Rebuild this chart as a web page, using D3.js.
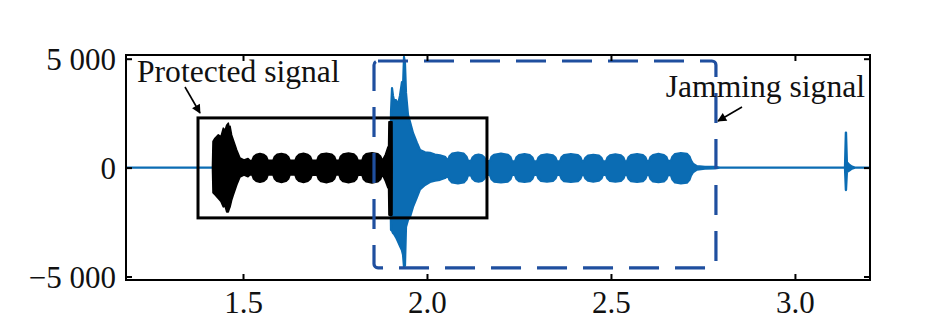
<!DOCTYPE html>
<html><head><meta charset="utf-8">
<script src="https://cdn.jsdelivr.net/npm/d3@7"></script>
<style>html,body{margin:0;padding:0;background:#fff;}svg{display:block;}</style>
</head><body>
<script>
// ---- data ----
const xTicks = [1.5, 2.0, 2.5, 3.0];
const xTickLabels = ["1.5", "2.0", "2.5", "3.0"];
const yTicks = [5000, 0, -5000];
const yTickLabels = ["5 000", "0", "\u22125 000"];

// protected signal envelope (black)
const protectedTime = [1.417, 1.4185, 1.4239, 1.4329, 1.4400, 1.4465, 1.4510, 1.4557, 1.460, 1.4625, 1.4647, 1.4690, 1.4736, 1.4829, 1.4918, 1.5027, 1.5136, 1.519,
  1.5245, 1.5285, 1.5355, 1.546, 1.557, 1.564, 1.568,
  1.5815, 1.5855, 1.5925, 1.6046, 1.6167, 1.6237, 1.6277,
  1.6413, 1.6453, 1.6523, 1.6644, 1.6765, 1.6835, 1.6875,
  1.701, 1.705, 1.712, 1.7268, 1.7417, 1.7487, 1.7527,
  1.7609, 1.7649, 1.7719, 1.7867, 1.8015, 1.8085, 1.8125,
  1.8234, 1.8274, 1.8344, 1.8505, 1.8667, 1.8737, 1.8777,
  1.8804, 1.8872, 1.894, 1.8955,
  1.8967, 1.9049, 1.9052];
const protectedUpper = [0, 1200, 1350, 1500, 1420, 1810, 1700, 1950, 2040, 1800, 1900, 1500, 1270, 810, 440, 350, 420, 320,
  340, 500, 600, 650, 600, 500, 340,
  340, 510, 610, 650, 600, 490, 330,
  330, 500, 610, 660, 600, 500, 340,
  340, 520, 620, 660, 610, 510, 340,
  330, 520, 620, 670, 620, 510, 350,
  340, 530, 630, 680, 630, 530, 380,
  380, 600, 950, 700,
  2100, 2100, 0];
const protectedLower = [0, -1150, -1250, -1420, -1550, -1800, -1750, -2030, -2030, -1900, -1810, -1500, -1260, -800, -430, -340, -420, -340,
  -340, -520, -620, -670, -620, -520, -340,
  -340, -520, -630, -680, -630, -520, -340,
  -340, -520, -630, -680, -620, -520, -350,
  -350, -530, -640, -690, -630, -520, -340,
  -340, -530, -640, -690, -640, -530, -350,
  -350, -540, -650, -700, -650, -540, -380,
  -380, -620, -930, -700,
  -2180, -2180, 0];

// jamming signal envelope (blue)
const jammingTime = [1.182, 1.900, 1.9022, 1.905, 1.9076, 1.9103, 1.9158, 1.9212, 1.9266, 1.932, 1.9348, 1.9375, 1.9402, 1.943, 1.9484, 1.9538, 1.962, 1.9728, 1.981, 1.9946, 2.0082, 2.0217, 2.0353, 2.0489, 2.0543,
  2.057, 2.061, 2.068, 2.084, 2.100, 2.1074, 2.1114,
  2.1196, 2.1236, 2.1306, 2.14, 2.1493, 2.1563, 2.1603,
  2.1712, 2.1752, 2.1822, 2.201, 2.220, 2.227, 2.231,
  2.2391, 2.2431, 2.2501, 2.265, 2.2798, 2.2868, 2.2908,
  2.2989, 2.3029, 2.3099, 2.326, 2.3423, 2.3493, 2.3533,
  2.3614, 2.3654, 2.3724, 2.391, 2.4102, 2.4172, 2.4212,
  2.4266, 2.4306, 2.4376, 2.452, 2.4673, 2.4743, 2.4783,
  2.4864, 2.4904, 2.4974, 2.512, 2.527, 2.534, 2.538,
  2.5435, 2.5475, 2.5545, 2.571, 2.5868, 2.5938, 2.5978,
  2.6033, 2.6073, 2.6143, 2.629, 2.6439, 2.6509, 2.6549,
  2.663, 2.667, 2.674, 2.690, 2.7064, 2.7134, 2.7174,
  2.7228, 2.7337, 2.7554, 2.7826, 2.796,
  3.1359, 3.1383, 3.1389, 3.1413, 3.1467, 3.1549, 3.163, 3.204];
const jammingUpper = [0, 0, 2560, 3650, 3300, 3100, 3100, 2900, 3300, 3930, 3700, 5080, 4800, 3430, 2420, 2100, 1590, 1130, 810, 700, 680, 600, 560, 500, 380,
  330, 520, 640, 690, 640, 500, 320,
  300, 460, 560, 600, 560, 460, 300,
  300, 490, 590, 640, 590, 480, 300,
  290, 470, 570, 620, 570, 460, 290,
  290, 460, 560, 610, 560, 460, 290,
  290, 470, 580, 620, 580, 470, 300,
  300, 450, 550, 590, 550, 450, 290,
  290, 460, 560, 610, 560, 460, 290,
  290, 470, 570, 620, 570, 470, 300,
  300, 480, 580, 630, 580, 480, 300,
  320, 500, 620, 670, 630, 510, 330,
  180, 70, 40, 30, 0,
  0, 1610, 1610, 250, 150, 50, 0, 0];
const jammingLower = [0, 0, -2860, -2900, -3000, -3050, -3200, -3400, -3600, -3800, -4000, -4560, -4500, -2720, -2400, -2260, -1800, -1350, -1000, -800, -660, -600, -560, -480, -400,
  -380, -560, -680, -720, -680, -550, -360,
  -350, -510, -610, -650, -610, -510, -340,
  -340, -530, -640, -680, -640, -530, -340,
  -340, -520, -620, -660, -620, -510, -330,
  -330, -500, -610, -650, -610, -500, -330,
  -330, -510, -620, -660, -620, -510, -340,
  -340, -500, -600, -640, -600, -500, -330,
  -330, -500, -610, -650, -610, -500, -330,
  -330, -510, -620, -660, -620, -510, -330,
  -330, -520, -630, -670, -630, -520, -340,
  -360, -550, -680, -720, -690, -560, -370,
  -220, -90, -50, -40, 0,
  0, -1030, -1030, -200, -150, -50, 0, 0];

// annotation boxes (data coordinates)
const protectedBox = {x0: 1.3777, x1: 2.163, y0: -2309, y1: 2281};
const jammingBox = {x0: 1.856, x1: 2.7853, y0: -4604, y1: 4895};

// ---- chart ----
const W = 933, H = 332;
const mLeft = 126, mRight = 870, mTop = 55, mBottom = 280;
const font = "'Liberation Serif','Times New Roman',serif";

const svg = d3.select("body").append("svg").attr("width", W).attr("height", H);
svg.append("rect").attr("width", W).attr("height", H).attr("fill", "#fff");

const x = d3.scaleLinear().domain([1.182, 3.204]).range([mLeft, mRight]);
const y = d3.scaleLinear().domain([-5160, 5170]).range([mBottom, mTop]);

const toRows = (t, hi, lo) => t.map((v, i) => ({t: v, hi: hi[i], lo: lo[i]}));
const area = d3.area().x(d => x(d.t)).y0(d => y(d.lo)).y1(d => y(d.hi));

const blue = "#0b6cb3";
svg.append("path").datum(toRows(jammingTime, jammingUpper, jammingLower))
  .attr("d", area).attr("fill", blue).attr("stroke", blue)
  .attr("stroke-width", 2.2).attr("stroke-linejoin", "round");

svg.append("path").datum(toRows(protectedTime, protectedUpper, protectedLower))
  .attr("d", area).attr("fill", "#000").attr("stroke", "#000")
  .attr("stroke-width", 1.6).attr("stroke-linejoin", "round");

// protected box
svg.append("rect")
  .attr("x", x(protectedBox.x0)).attr("y", y(protectedBox.y1))
  .attr("width", x(protectedBox.x1) - x(protectedBox.x0))
  .attr("height", y(protectedBox.y0) - y(protectedBox.y1))
  .attr("fill", "none").attr("stroke", "#000").attr("stroke-width", 3);

// jamming dashed box
svg.append("rect")
  .attr("x", x(jammingBox.x0)).attr("y", y(jammingBox.y1))
  .attr("width", x(jammingBox.x1) - x(jammingBox.x0))
  .attr("height", y(jammingBox.y0) - y(jammingBox.y1))
  .attr("rx", 4).attr("ry", 4)
  .attr("fill", "none").attr("stroke", "#1f4f9f").attr("stroke-width", 3.2)
  .attr("stroke-dasharray", "30,16");

// frame
svg.append("rect").attr("x", mLeft).attr("y", mTop)
  .attr("width", mRight - mLeft).attr("height", mBottom - mTop)
  .attr("fill", "none").attr("stroke", "#000").attr("stroke-width", 2);

// axes with inward ticks on all sides
const axB = d3.axisBottom(x).tickValues(xTicks).tickSizeInner(-6).tickSizeOuter(0).tickFormat((d, i) => xTickLabels[i]);
const axT = d3.axisTop(x).tickValues(xTicks).tickSizeInner(-6).tickSizeOuter(0).tickFormat("");
const axL = d3.axisLeft(y).tickValues(yTicks).tickSizeInner(-6).tickSizeOuter(0).tickFormat((d, i) => yTickLabels[i]);
const axR = d3.axisRight(y).tickValues(yTicks).tickSizeInner(-6).tickSizeOuter(0).tickFormat("");

function style(g) {
  g.select(".domain").remove();
  g.selectAll(".tick line").attr("stroke", "#000").attr("stroke-width", 2);
  g.selectAll(".tick text").attr("fill", "#111").style("font-family", font).style("font-size", "31px");
}
const gB = svg.append("g").attr("transform", `translate(0,${mBottom})`).call(axB).call(style);
gB.selectAll(".tick text").attr("y", 33).attr("dy", 0);
svg.append("g").attr("transform", `translate(0,${mTop})`).call(axT).call(style);
const gL = svg.append("g").attr("transform", `translate(${mLeft},0)`).call(axL).call(style);
gL.selectAll(".tick text").attr("x", -10).attr("dy", 10.5);
svg.append("g").attr("transform", `translate(${mRight},0)`).call(axR).call(style);

// annotations
svg.append("text").attr("x", 137).attr("y", 82).attr("fill", "#111")
  .style("font-family", font).style("font-size", "31.6px").text("Protected signal");
svg.append("text").attr("x", 865).attr("y", 97).attr("text-anchor", "end").attr("fill", "#111")
  .style("font-family", font).style("font-size", "31.6px").text("Jamming signal");

const defs = svg.append("defs");
defs.append("marker").attr("id", "ah").attr("viewBox", "0 0 10 10")
  .attr("refX", 9).attr("refY", 5).attr("markerWidth", 10).attr("markerHeight", 9)
  .attr("markerUnits", "userSpaceOnUse").attr("orient", "auto")
  .append("path").attr("d", "M0,0 L10,5 L0,10 Z").attr("fill", "#000");

svg.append("line").attr("x1", 185).attr("y1", 87).attr("x2", 200).attr("y2", 113)
  .attr("stroke", "#000").attr("stroke-width", 1.6).attr("marker-end", "url(#ah)");
svg.append("line").attr("x1", 742).attr("y1", 107).attr("x2", 718).attr("y2", 121)
  .attr("stroke", "#000").attr("stroke-width", 1.6).attr("marker-end", "url(#ah)");
</script>
</body></html>
